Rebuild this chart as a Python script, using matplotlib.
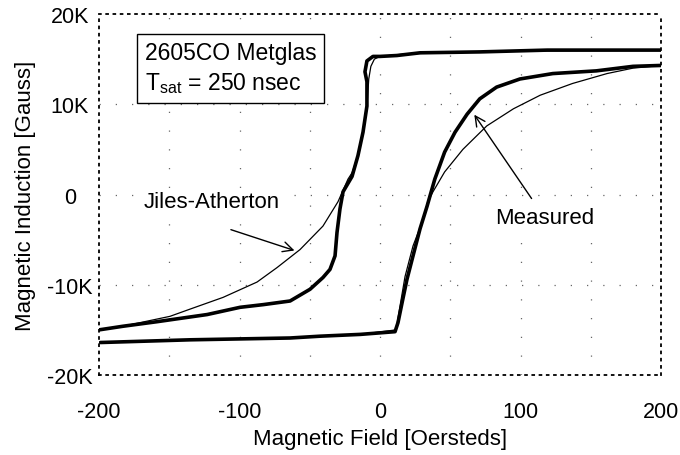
import matplotlib
matplotlib.use("Agg")
import matplotlib.pyplot as plt
from matplotlib.ticker import FixedLocator
import numpy as np

plt.rcParams['font.family'] = ['Liberation Sans', 'DejaVu Sans']

# ---- data (field in Oersteds, induction in kGauss) ----
meas_up_h = [200, 160, 119, 71, 28.5, 12, 0, -5, -9.3, -10.7, -9.3, -9.3, -12.1, -15.7, -19.9, -26.3,
             -28.5, -30.6, -32, -35.6, -40.6, -49.8, -64, -83, -99.6, -123, -159, -183, -200]
meas_up_b = [16.0, 16.0, 16.0, 15.8, 15.7, 15.4, 15.3, 15.3, 14.8, 13.6, 12.5, 9.8, 6.9, 4.3, 2.0, 0.3,
             -1.6, -4.2, -6.8, -8.3, -9.2, -10.5, -11.8, -12.2, -12.5, -13.3, -14.1, -14.6, -15.0]
meas_lo_h = [-199, -135, -64, -42.7, -14, 10.7, 12.8, 15.7, 19.2, 23.5, 28.5, 33.5, 39, 46, 53.4,
             62, 71, 83, 99.6, 123, 154, 180, 200]
meas_lo_b = [-16.4, -16.1, -15.9, -15.7, -15.5, -15.2, -14.2, -12.0, -9.4, -6.8, -3.8, -1.3, 1.7, 4.7, 6.9,
             8.9, 10.6, 11.9, 12.8, 13.4, 13.7, 14.2, 14.3]
ja_up_h = [200, 100, 20, 0, -4, -6.5, -8, -9.3, -12.1, -15.7, -19.9, -22.8, -29.9, -40.6, -56.9,
           -73.3, -87.5, -111.7, -135.2, -149.5, -183, -200]
ja_up_b = [16.0, 15.9, 15.6, 15.3, 15.0, 14.2, 12.8, 9.8, 6.9, 4.3, 2.4, 1.7, -0.8, -3.5, -6.1,
           -8.1, -9.7, -11.4, -12.7, -13.5, -14.6, -15.0]
ja_lo_h = [-200, -135, -64, -14, 11.4, 14.2, 17.8, 23.5, 29.9, 34, 37.7, 46, 59, 76, 95,
           114, 137, 161.6, 180, 200]
ja_lo_b = [-16.4, -16.1, -15.9, -15.5, -15.0, -12.4, -9.1, -5.7, -3.1, -0.8, 0.3, 2.5, 5.0, 7.6, 9.5,
           11.0, 12.3, 13.4, 14.0, 14.3]

x_ticks = [-200, -100, 0, 100, 200]
y_ticks = [-20000, -10000, 0, 10000, 20000]
y_tick_labels = ['-20K', '-10K', '0', '10K', '20K']
x_grid = [-150, -100, -50, 0, 50, 100, 150]
y_grid = [-10000, 0, 10000]

def k(v):
    return np.asarray(v) * 1000.0

fig = plt.figure(figsize=(6.8, 4.56), dpi=100)
ax = fig.add_axes([99/680, 1-376/456, (661-99)/680, (376-15)/456])

ax.set_xlim(-200, 200)
ax.set_ylim(-20000, 20000)

# sparse dotted grid
for g in x_grid:
    ax.axvline(g, color='0.4', lw=0.9, ls=(0, (1, 14)), zorder=0)
for g in y_grid:
    ax.axhline(g, color='0.4', lw=0.9, ls=(0, (1, 12)), zorder=0)

# curves
ax.plot(meas_up_h, k(meas_up_b), color='black', lw=2.6, solid_capstyle='round', solid_joinstyle='round')
ax.plot(meas_lo_h, k(meas_lo_b), color='black', lw=2.6, solid_capstyle='round', solid_joinstyle='round')
ax.plot(ja_up_h, k(ja_up_b), color='black', lw=0.9, solid_joinstyle='round')
ax.plot(ja_lo_h, k(ja_lo_b), color='black', lw=0.9, solid_joinstyle='round')

# spines dotted
for s in ax.spines.values():
    s.set_linestyle((0, (1, 3)))
    s.set_linewidth(1.3)
    s.set_color('black')

ax.xaxis.set_major_locator(FixedLocator(x_ticks))
ax.yaxis.set_major_locator(FixedLocator(y_ticks))
ax.set_yticklabels(y_tick_labels)
ax.set_xticklabels([str(t) for t in x_ticks])
ax.tick_params(axis='both', length=0, labelsize=15.5)
ax.tick_params(axis='x', pad=19)
ax.tick_params(axis='y', pad=21)
for lab in ax.get_yticklabels():
    lab.set_horizontalalignment('center')

ax.set_xlabel('Magnetic Field [Oersteds]', fontsize=16, labelpad=4)
ax.set_ylabel('Magnetic Induction [Gauss]', fontsize=16, labelpad=8)

# info box
ax.text(-167.5, 17000, '2605CO Metglas\n$\\mathregular{T_{sat}}$ = 250 nsec', fontsize=16.5,
        ha='left', va='top', linespacing=1.3,
        bbox=dict(boxstyle='square,pad=0.35', fc='white', ec='black', lw=1.0))

# annotations
ax.text(-120, -800, 'Jiles-Atherton', fontsize=16, ha='center', va='center',
        bbox=dict(boxstyle='square,pad=0.05', fc='white', ec='none'))
ax.annotate('', xy=(-59, -6300), xytext=(-108, -3800),
            arrowprops=dict(arrowstyle='->', color='black', lw=1.0, mutation_scale=18))
ax.text(117, -2500, 'Measured', fontsize=16, ha='center', va='center',
        bbox=dict(boxstyle='square,pad=0.05', fc='white', ec='none'))
ax.annotate('', xy=(66, 9100), xytext=(109, -700),
            arrowprops=dict(arrowstyle='->', color='black', lw=1.0, mutation_scale=18))

fig.savefig('out.png', dpi=100)
